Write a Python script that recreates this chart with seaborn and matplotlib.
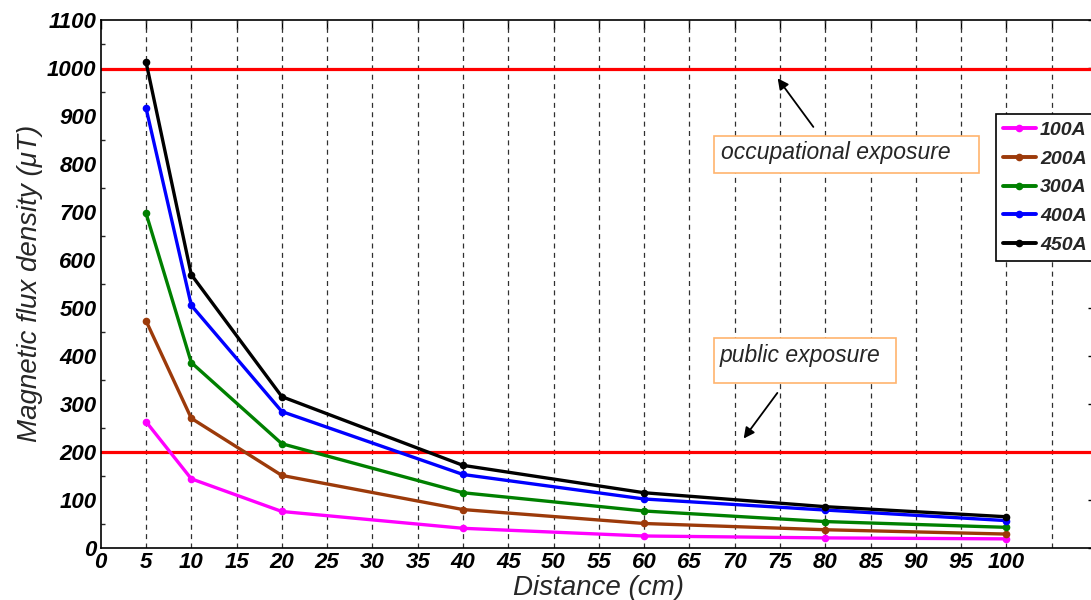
import matplotlib
matplotlib.use("Agg")
import matplotlib.pyplot as plt
import seaborn as sns
import pandas as pd
from matplotlib.patches import Rectangle

# ---- data ----
distance = [5, 10, 20, 40, 60, 80, 100]
series_names = ["100A", "200A", "300A", "400A", "450A"]
b_100A = [263, 144, 76, 41, 25, 21, 19]
b_200A = [473, 270, 151, 80, 51, 38, 29]
b_300A = [697, 386, 217, 115, 77, 55, 43]
b_400A = [916, 505, 284, 153, 102, 79, 57]
b_450A = [1012, 569, 315, 172, 115, 86, 65]
limits = [996, 200]
x_ticks = list(range(0, 110, 5))
x_tick_labels = [str(v) if v <= 100 else "" for v in x_ticks]
y_ticks = list(range(0, 1101, 100))

colors = {"100A": "#FF00FF", "200A": "#9C3A0A", "300A": "#008000",
          "400A": "#0000FF", "450A": "#000000"}

rows = []
for name, vals in zip(series_names, [b_100A, b_200A, b_300A, b_400A, b_450A]):
    for d, v in zip(distance, vals):
        rows.append({"Distance": d, "B": v, "Current": name})
df = pd.DataFrame(rows)

sns.set_style("white")
plt.rcParams["font.family"] = ["Liberation Sans", "DejaVu Sans"]

fig = plt.figure(figsize=(10.91, 6.0), dpi=100)
W, H = 1091, 600
x0px, x100px = 100.7, 1006.5
ppu = (x100px - x0px) / 100.0
xmax = 110
right_px = x0px + xmax * ppu
ax = fig.add_axes([x0px / W, (H - 548) / H, (right_px - x0px) / W, (548 - 19.5) / H])

# grid lines (vertical dashed)
for xv in x_ticks[1:]:
    ax.axvline(xv, color="#303030", lw=0.9, dashes=(4, 3.5), zorder=1)

sns.lineplot(data=df, x="Distance", y="B", hue="Current", hue_order=series_names,
             palette=colors, marker="o", markersize=5.5, markeredgewidth=0,
             linewidth=2.4, ax=ax, legend=False, zorder=3)

for lv in limits:
    ax.axhline(lv, color="#FF0000", lw=2.3, zorder=2)

ax.set_xlim(0, xmax)
ax.set_ylim(0, 1100)
ax.set_xticks(x_ticks)
ax.set_xticklabels(x_tick_labels)
ax.set_yticks(y_ticks)
ax.set_yticks(list(range(50, 1100, 100)), minor=True)
for lab in ax.get_xticklabels() + ax.get_yticklabels():
    lab.set_fontsize(16)
    lab.set_fontweight("bold")
    lab.set_fontstyle("italic")
ax.tick_params(axis="both", which="major", direction="in", length=6.5, width=1.0,
               top=True, right=True, pad=3, colors="black")
ax.tick_params(axis="y", which="minor", direction="in", length=3, width=1.0,
               left=True, right=True)
for s in ax.spines.values():
    s.set_color("black")
    s.set_linewidth(1.2)

ax.set_xlabel("Distance (cm)", fontsize=20, fontstyle="italic", labelpad=1)
ax.set_ylabel("Magnetic flux density (\u03bcT)", fontsize=20, fontstyle="italic", labelpad=3)

# annotation boxes
box_color = "#FFB46E"
def ybox(px):
    return (548 - px) / 0.4795
def xbox(px):
    return (px - x0px) / ppu

ax.add_patch(Rectangle((xbox(714.3), ybox(174)), xbox(979) - xbox(714.3), ybox(136.7) - ybox(174),
                       facecolor="white", edgecolor=box_color, lw=1.2, zorder=4))
ax.text(xbox(721), ybox(153), "occupational exposure", fontsize=16.5, fontstyle="italic",
        va="center", ha="left", zorder=5)
ax.add_patch(Rectangle((xbox(714.3), ybox(383.7)), xbox(896) - xbox(714.3), ybox(338.3) - ybox(383.7),
                       facecolor="white", edgecolor=box_color, lw=1.2, zorder=4))
ax.text(xbox(720), ybox(356), "public exposure", fontsize=16.5, fontstyle="italic",
        va="center", ha="left", zorder=5)

ax.annotate("", xy=(xbox(776), ybox(77)), xytext=(xbox(815), ybox(130)),
            arrowprops=dict(arrowstyle="-|>", color="black", lw=1.3, mutation_scale=16), zorder=6)
ax.annotate("", xy=(xbox(742), ybox(441)), xytext=(xbox(779), ybox(391)),
            arrowprops=dict(arrowstyle="-|>", color="black", lw=1.3, mutation_scale=16), zorder=6)

# legend
handles = [plt.Line2D([], [], color=colors[n], lw=2.8, marker="o", markersize=5.5,
                      markeredgewidth=0) for n in series_names]
leg = fig.legend(handles, series_names, loc="upper left",
                 bbox_to_anchor=(995.7 / W, 1 - 114 / H), bbox_transform=fig.transFigure,
                 frameon=True, fancybox=False, borderaxespad=0, borderpad=0.36,
                 labelspacing=0.58, handlelength=1.7, handletextpad=0.22,
                 prop={"size": 14, "weight": "bold", "style": "italic"})
leg.get_frame().set_edgecolor("black")
leg.get_frame().set_linewidth(1.2)
leg.get_frame().set_alpha(1)

fig.savefig("out.png", dpi=100)
